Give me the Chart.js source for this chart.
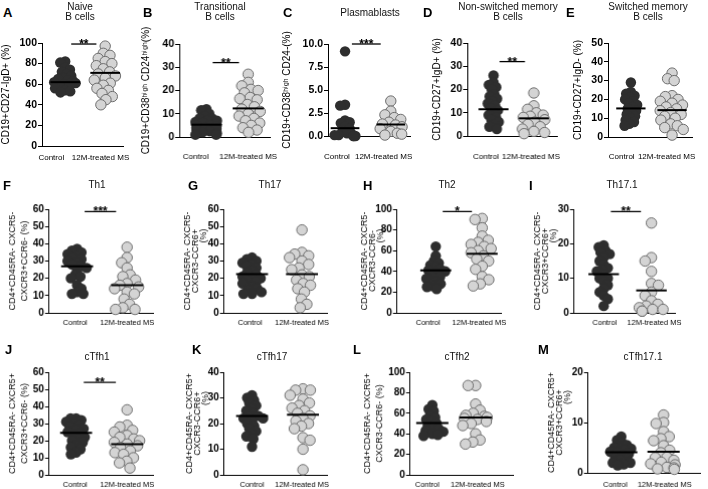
<!DOCTYPE html>
<html>
<head>
<meta charset="utf-8">
<script src="https://cdn.jsdelivr.net/npm/chart.js@4.4.0/dist/chart.umd.min.js"></script>
<style>
  body { margin: 0; background: #fff; }
  #fig { position: relative; width: 708px; height: 489px; overflow: hidden; font-family: "Liberation Sans", Arial, sans-serif; }
  #fig canvas { position: absolute; }
  .ltr { position: absolute; font-weight: bold; font-size: 13px; line-height: 13px; }
  .ttl { position: absolute; font-size: 10px; line-height: 10px; text-align: center; white-space: nowrap; transform: translateX(-50%); color: #111; }
</style>
</head>
<body>
<div id="fig"></div>
<script>
// ============================================
//  Data (%)
// ============================================
const FONT = '"Liberation Sans", Arial, sans-serif';
const groups = ['Control', '12M-treated MS'];

const naiveCtrl = [82, 81, 76, 74, 72, 70, 68, 66, 65, 64, 63, 62, 61, 60, 59, 58, 56, 54, 53, 52];
const naiveMS   = [97, 90, 88, 85, 82, 80, 78, 75, 72, 70, 68, 66, 64, 61, 59, 56, 54, 51, 48, 45, 40];
const naiveMed  = [62, 71];

const transCtrl = [12, 11.5, 10, 9, 8, 8, 7, 7, 6.5, 6, 6, 5.5, 5, 5, 4.5, 4, 4, 3.5, 3, 3, 2.5, 2, 1.5, 1, 1];
const transMS   = [27, 23.5, 22, 20.5, 20, 19, 17, 16.5, 16, 14, 13, 12, 11, 10, 9, 8, 7, 6, 5, 4, 3, 2];
const transMed  = [5.3, 12.3];

const plasmaCtrl = [9.2, 3.4, 3.3, 1.7, 1.5, 1.4, 1.0, 0.8, 0.5, 0.3, 0.2, 0.1, 0.1, 0, 0, 0];
const plasmaMS   = [3.8, 2.7, 2.3, 2.0, 1.8, 1.5, 1.3, 1.2, 1.0, 0.8, 0.5, 0.3, 0.2, 0.1];
const plasmaMed  = [0.85, 1.25];

const nsmCtrl = [26, 23, 22, 21, 20, 18, 17, 16, 15, 14, 13, 12, 11, 10, 9, 8, 7, 6, 5, 4, 3];
const nsmMS   = [18.5, 13, 11.5, 10, 9, 8.5, 8, 7, 6, 5, 4, 3, 2, 1.5, 1];
const nsmMed  = [11.5, 7.6];

const smCtrl = [29, 24, 23, 22, 21, 20, 19, 18, 17, 16, 15, 14, 13, 12, 11, 10, 9, 8, 7, 6];
const smMS   = [34, 31, 30, 22, 21.5, 20, 19, 18, 17, 16, 15, 14, 13, 12, 11, 10, 9, 7, 6, 5, 4, 1];
const smMed  = [15.2, 14.3];

const th1Ctrl = [37, 36, 35, 34, 33, 32, 31, 30, 29, 28, 27, 26, 25, 22, 21, 20, 16, 14, 12, 11, 11];
const th1MS   = [38, 32, 29, 26, 22, 21, 19, 17, 16, 15, 14, 12, 11, 8, 5, 3, 2, 2];
const th1Med  = [27, 16];

const th17Ctrl = [32, 31, 30, 29, 28, 27, 26, 24, 23, 22, 21, 20, 20, 19, 18, 17, 15, 14, 13, 12, 11, 11];
const th17MS   = [48, 35, 34, 33, 32, 30, 28, 26, 25, 22, 21, 19, 17, 16, 14, 12, 8, 5, 3];
const th17Med  = [22.5, 22.5];

const th2Ctrl = [64, 55, 50, 48, 46, 44, 42, 41, 40, 38, 36, 35, 33, 30, 28, 26, 25, 23];
const th2MS   = [91, 90, 82, 74, 70, 68, 66, 64, 62, 60, 58, 55, 52, 50, 45, 42, 35, 32, 28, 26];
const th2Med  = [41, 57];

const th171Ctrl = [19.5, 19, 18, 17.5, 17, 16, 15, 14, 13, 12.5, 12, 11, 10, 10, 9, 8, 7, 6, 5, 4, 2];
const th171MS   = [26, 16, 15, 12, 8.5, 8, 6, 5, 3.5, 2.5, 2, 1.5, 1, 1, 0.5, 0.5];
const th171Med  = [11.2, 6.5];

const tfh1Ctrl = [33, 33, 32, 31, 30, 29, 28, 27, 26, 25, 24, 23, 22, 21, 20, 19, 17, 16, 15, 13, 12];
const tfh1MS   = [38, 29, 28, 26, 25, 23, 22, 21, 20, 19, 18, 17, 16, 14, 13, 12, 10, 8, 7, 4];
const tfh1Med  = [24.6, 18];

const tfh17Ctrl = [31, 30, 29, 28, 27, 26, 25, 24, 23, 23, 22, 22, 21, 20, 19, 18, 17, 16, 15, 14, 11];
const tfh17MS   = [33.5, 33, 33, 31, 29.5, 28, 27, 26, 25, 24, 23, 22, 21, 20, 19, 18, 14.5, 13.5, 10, 2];
const tfh17Med  = [22.9, 23.4];

const tfh2Ctrl = [68, 64, 62, 58, 56, 54, 52, 50, 48, 46, 45, 43, 42, 40, 39, 38];
const tfh2MS   = [87, 87, 69, 63, 60, 58, 57, 56, 55, 54, 52, 50, 48, 40, 34, 32, 30];
const tfh2Med  = [50.6, 56];

const tfh171Ctrl = [7.2, 6.5, 6, 5.5, 5, 5, 4.8, 4.5, 4.2, 4, 3.8, 3.5, 3, 2.8, 2.5, 2, 2, 1.7, 1.5];
const tfh171MS   = [11.5, 10, 9.8, 8.2, 7.2, 6.8, 6.4, 5.4, 4.5, 4, 3.1, 3, 2.5, 2.1, 1.8, 1.6, 1.1, 1, 0.8, 0.7];
const tfh171Med  = [4.1, 4.2];

const ticks100 = [0, 20, 40, 60, 80, 100];
const ticks40  = [0, 10, 20, 30, 40];
const ticks10  = [0, 2.5, 5, 7.5, 10];
const ticks50  = [0, 10, 20, 30, 40, 50];
const ticks60  = [0, 10, 20, 30, 40, 50, 60];
const ticks30  = [0, 10, 20, 30];
const ticks20  = [0, 10, 20];

// ============================================
//  Panel layout (pixel boxes of each plot area)
// ============================================
const P1 = 'CD4+CD45RA- CXCR5-', P2 = 'CD4+CD45RA- CXCR5+', PCT = '                    (%)';
const PANELS = [
  { L:'A', title:['Naive','B cells'], yT:'CD19+CD27-IgD+ (%)', c:naiveCtrl, m:naiveMS, med:naiveMed, yt:ticks100, sig:['**', 99],
    box:[42,43,130,146], cx:67, mx:110, lab:[52,105], labY:157, t1:6, tx:80, ty:2, lx:3, ly:6 },
  { L:'B', title:['Transitional','B cells'], yT:'CD19+CD38ʰⁱᵍʰ CD24ʰⁱᵍʰ(%)', c:transCtrl, m:transMS, med:transMed, yt:ticks40, sig:['**', 32],
    box:[179,44,273,137], cx:207, mx:250, lab:[196,250], labY:156, t1:146, tx:220, ty:2, lx:143, ly:6 },
  { L:'C', title:['Plasmablasts'], yT:'CD19+CD38ʰⁱᵍʰ CD24-(%)', c:plasmaCtrl, m:plasmaMS, med:plasmaMed, yt:ticks10, dec:1, sig:['***', 10],
    box:[328,44,420,136], cx:347, mx:398, lab:[338,390], labY:156, t1:287, tx:370, ty:8, lx:283, ly:6 },
  { L:'D', title:['Non-switched memory','B cells'], yT:'CD19+CD27+IgD+ (%)', c:nsmCtrl, m:nsmMS, med:nsmMed, yt:ticks40, sig:['**', 32],
    box:[467,43,563,136], cx:495, mx:538, lab:[487,535], labY:156, t1:437, tx:508, ty:2, lx:423, ly:6 },
  { L:'E', title:['Switched memory','B cells'], yT:'CD19+CD27+IgD- (%)', c:smCtrl, m:smMS, med:smMed, yt:ticks50, sig:null,
    box:[608,43,700,137], cx:633, mx:678, lab:[623,672], labY:156, t1:578, tx:648, ty:2, lx:566, ly:6 },

  { L:'F', title:['Th1'], yT:[P1, 'CXCR3+CCR6- (%)'], c:th1Ctrl, m:th1MS, med:th1Med, yt:ticks60, sig:['***', 58.6],
    box:[49,209,153,312], cx:77, mx:127, lab:[75,127], labY:322, t1:13, tx:97, ty:180, lx:3, ly:179 },
  { L:'G', title:['Th17'], yT:[P1, 'CXCR3-CCR6+', PCT], c:th17Ctrl, m:th17MS, med:th17Med, yt:ticks60, sig:null,
    box:[224,209,328,312], cx:252, mx:302, lab:[250,302], labY:322, t1:188, tx:270, ty:180, lx:188, ly:179 },
  { L:'H', title:['Th2'], yT:[P1, 'CXCR3-CCR6-', PCT], c:th2Ctrl, m:th2MS, med:th2Med, yt:ticks100, sig:['*', 97.7],
    box:[397,209,505,312], cx:437, mx:485, lab:[429,482], labY:322, t1:365, tx:447, ty:180, lx:363, ly:179 },
  { L:'I', title:['Th17.1'], yT:[P1, 'CXCR3+CCR6+', PCT], c:th171Ctrl, m:th171MS, med:th171Med, yt:ticks30, sig:['**', 29.3],
    box:[574,209,680,312], cx:605, mx:655, lab:[606,658], labY:322, t1:538, tx:622, ty:180, lx:529, ly:179 },

  { L:'J', title:['cTfh1'], yT:[P2, 'CXCR3+CCR6- (%)'], c:tfh1Ctrl, m:tfh1MS, med:tfh1Med, yt:ticks60, sig:['**', 54],
    box:[49,372,153,474], cx:76, mx:127, lab:[75,127], labY:484, t1:13, tx:97, ty:352, lx:5, ly:343 },
  { L:'K', title:['cTfh17'], yT:[P2, 'CXCR3-CCR6+', PCT], c:tfh17Ctrl, m:tfh17MS, med:tfh17Med, yt:ticks40, sig:null,
    box:[224,372,328,474], cx:252, mx:303, lab:[252,302], labY:484, t1:190, tx:272, ty:352, lx:192, ly:343 },
  { L:'L', title:['cTfh2'], yT:[P2, 'CXCR3-CCR6- (%)'], c:tfh2Ctrl, m:tfh2MS, med:tfh2Med, yt:ticks100, sig:null,
    box:[410,372,513,474], cx:432, mx:475, lab:[427,477], labY:484, t1:368, tx:457, ty:352, lx:353, ly:343 },
  { L:'M', title:['cTfh17.1'], yT:[P2, 'CXCR3+CCR6+', PCT], c:tfh171Ctrl, m:tfh171MS, med:tfh171Med, yt:ticks20, sig:null,
    box:[588,372,700,472], cx:621, mx:663, lab:[615,664], labY:484, t1:552, tx:643, ty:352, lx:538, ly:343 }
];

const SIG_SPAN = [1.15, 1.78];
const CTRL_COL = '#2e2e2e', MS_COL = '#d4d4d4', MS_EDGE = '#6e6e6e';

// simple beeswarm: spreads close values sideways (pixel units)
function swarm(vals, pxPerY, D, cap) {
  const order = vals.map((v, i) => i).sort((a, b) => vals[b] - vals[a]);
  const placed = [];
  const out = new Array(vals.length);
  let last = 1;
  order.forEach(i => {
    const y = vals[i] * pxPerY;
    const near = placed.filter(p => Math.abs(p.y - y) < D);
    const cands = [0];
    near.forEach(p => { const h = Math.sqrt(D * D - (p.y - y) ** 2); cands.push(p.x + h, p.x - h); });
    let ok = cands.filter(c => near.every(p => (c - p.x) ** 2 + (y - p.y) ** 2 >= D * D - 0.01));
    ok.sort((a, b) => (Math.abs(a) - Math.abs(b)) || (last > 0 ? a - b : b - a));
    let x = ok.length ? ok[0] : 0;
    if (Math.abs(x) > cap) x = Math.sign(x) * (cap - (Math.abs(x) - cap) * 0.5);
    if (x !== 0) last = Math.sign(x);
    placed.push({ x, y });
    out[i] = x;
  });
  return out;
}

const sigPlugin = {
  id: 'sig',
  afterDatasetsDraw(chart, args, opts) {
    if (!opts.text) return;
    const { ctx, scales: { x, y } } = chart;
    const px = x.getPixelForValue((SIG_SPAN[0] + SIG_SPAN[1]) / 2);
    const py = y.getPixelForValue(opts.y);
    ctx.save();
    ctx.font = 'bold 12px ' + FONT;
    ctx.textAlign = 'center';
    ctx.textBaseline = 'alphabetic';
    ctx.fillStyle = '#000';
    ctx.fillText(opts.text, px, py + 4);
    ctx.restore();
  }
};

const fig = document.getElementById('fig');

function addText(cls, txt, x, y) {
  const d = document.createElement('div');
  d.className = cls;
  d.style.left = x + 'px';
  d.style.top = y + 'px';
  d.innerHTML = txt;
  fig.appendChild(d);
}

function buildPanel(p) {
  const [L, T, R, B] = p.box;
  const W = R - L, H = B - T;
  const unit = p.mx - p.cx;
  const xMin = 1 - (p.cx - L) / unit, xMax = 2 + (R - p.mx) / unit;
  const yMax = p.yt[p.yt.length - 1];
  const pxY = H / yMax;
  const row1 = T < 100;
  const multi = Array.isArray(p.yT);
  const tSize = row1 ? 10 : 9;
  const tLH = multi ? (p.yT.length > 2 ? 0.85 : 1.3) : 1.2;
  const yW = L - (p.t1 - tSize * tLH / 2);
  const labSize = row1 ? 8 : 7.5;
  const xH = p.labY - B + labSize + 4;

  const dc = swarm(p.c, pxY, 5.5, 12), dm = swarm(p.m, pxY, 7.5, 13);
  const ctrlPts = p.c.map((v, i) => ({ x: 1 + dc[i] / unit, y: v }));
  const msPts = p.m.map((v, i) => ({ x: 2 + dm[i] / unit, y: v }));
  const hw = 16 / unit;

  const datasets = [
    { type: 'line', data: [{ x: 1 - hw, y: p.med[0] }, { x: 1 + hw, y: p.med[0] }], borderColor: '#000', borderWidth: 2, pointRadius: 0, clip: false },
    { type: 'line', data: [{ x: 2 - hw, y: p.med[1] }, { x: 2 + hw, y: p.med[1] }], borderColor: '#000', borderWidth: 2, pointRadius: 0, clip: false },
    { type: 'scatter', data: msPts, backgroundColor: MS_COL, borderColor: MS_EDGE, borderWidth: 1, pointRadius: 5.2, clip: false },
    { type: 'scatter', data: ctrlPts, backgroundColor: CTRL_COL, borderColor: CTRL_COL, borderWidth: 0, pointRadius: 5.2, clip: false }
  ];
  if (p.sig) {
    datasets.unshift({ type: 'line', data: SIG_SPAN.map(x => ({ x, y: p.sig[1] })), borderColor: '#000', borderWidth: 1.3, pointRadius: 0, clip: false });
  }

  const c = document.createElement('canvas');
  c.width = W + yW + 30;
  c.height = H + xH + 40;
  fig.appendChild(c);

  const chart = new Chart(c, {
    type: 'scatter',
    data: { datasets },
    plugins: [sigPlugin],
    options: {
      responsive: false,
      maintainAspectRatio: false,
      animation: false,
      events: [],
      layout: { padding: { top: 22, right: 8 } },
      plugins: { legend: { display: false }, tooltip: { enabled: false }, sig: { text: p.sig ? p.sig[0] : null, y: p.sig ? p.sig[1] : 0 } },
      scales: {
        x: {
          type: 'linear', min: xMin, max: xMax,
          grid: { display: false, drawTicks: false, tickLength: 0 },
          border: { display: true, color: '#000', width: 1 },
          afterBuildTicks: s => { s.ticks = p.lab.map(px => ({ value: 1 + (px - p.cx) / unit })); },
          afterFit: s => { s.height = xH; },
          ticks: { autoSkip: false, maxRotation: 0, padding: p.labY - B - labSize / 2 - 0.5, color: '#000',
                   font: { family: FONT, size: labSize }, callback: (v, i) => groups[i] }
        },
        y: {
          min: 0, max: yMax,
          grid: { drawOnChartArea: false, drawTicks: true, tickLength: 4, color: '#000', lineWidth: 1 },
          border: { display: true, color: '#000', width: 1 },
          afterBuildTicks: s => { s.ticks = p.yt.map(v => ({ value: v })); },
          afterFit: s => { s.width = yW; },
          ticks: { padding: 1, color: '#000', font: { family: FONT, size: row1 ? 10.5 : 10, weight: 'bold' },
                   callback: v => p.dec ? v.toFixed(p.dec) : v },
          title: { display: true, text: p.yT, color: '#000', padding: 0,
                   font: { family: FONT, size: tSize, lineHeight: tLH } }
        }
      }
    }
  });

  // fit the plot area to the measured box
  let ca = chart.chartArea;
  chart.resize(c.width + (W - (ca.right - ca.left)), c.height + (H - (ca.bottom - ca.top)));
  ca = chart.chartArea;
  c.style.left = (L - ca.left) + 'px';
  c.style.top = (T - ca.top) + 'px';

  addText('ltr', p.L, p.lx, p.ly);
  addText('ttl', p.title.join('<br>'), p.tx, p.ty);
}

PANELS.forEach(buildPanel);
</script>
</body>
</html>
